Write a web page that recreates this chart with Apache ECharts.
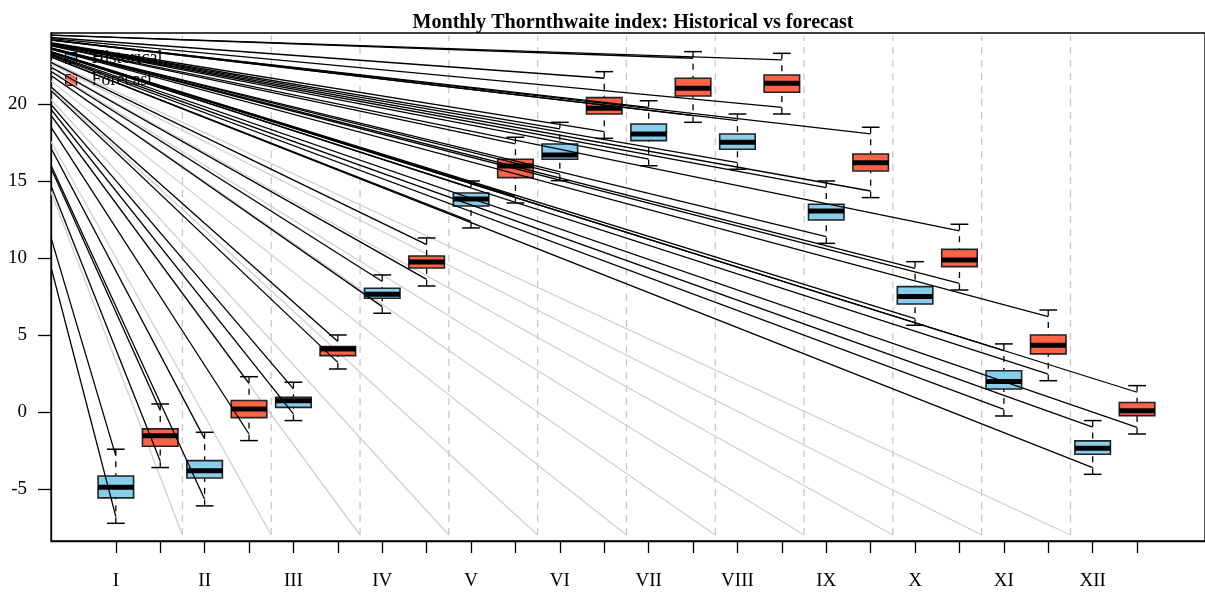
<!DOCTYPE html>
<html><head><meta charset="utf-8">
<script src="https://cdn.jsdelivr.net/npm/echarts@6/dist/echarts.min.js"></script>
<style>html,body{margin:0;padding:0;background:#fff}#c{width:1205px;height:594px}</style>
</head><body><div id="c"></div>
<script>
// ---- data ----
const months = ['I','II','III','IV','V','VI','VII','VIII','IX','X','XI','XII'];
// Historical box statistics
const histLo  = [-7.23,-6.10,-0.56, 6.41,11.95,15.02,15.99,15.76,10.95, 5.63,-0.26,-4.05];
const histQ1  = [-5.58,-4.29, 0.30, 7.38,13.38,16.41,17.62,17.06,12.47, 7.01, 1.49,-2.75];
const histMed = [-4.89,-3.81, 0.72, 7.64,13.83,16.69,18.05,17.51,13.05, 7.49, 1.97,-2.36];
const histQ3  = [-4.16,-3.16, 0.95, 8.03,14.22,17.40,18.70,18.05,13.49, 8.14, 2.68,-1.88];
const histHi  = [-2.42,-1.32, 1.93, 8.90,15.00,18.81,20.21,19.35,15.00, 9.76, 4.42,-0.56];
// Forecast box statistics
const fcstLo  = [-3.61,-1.86, 2.79, 8.18,13.57,17.77,18.81,19.35,13.92, 7.92, 2.03,-1.43];
const fcstQ1  = [-2.23,-0.37, 3.66, 9.35,15.22,19.35,20.52,20.76,15.65, 9.44, 3.77,-0.24];
const fcstMed = [-1.54, 0.19, 4.09, 9.74,15.97,19.72,21.02,21.34,16.19, 9.87, 4.33, 0.08];
const fcstQ3  = [-1.10, 0.74, 4.24,10.13,16.41,20.41,21.67,21.88,16.75,10.56, 5.00, 0.61];
const fcstHi  = [ 0.52, 2.29, 5.00,11.30,17.84,22.10,23.40,23.29,18.49,12.19, 6.62, 1.71];
// end values of the long black rays (near each whisker end)
const histRayHi = [-2.85,-1.75, 1.50, 8.47,14.57,18.38,19.78,18.92,14.57, 9.33, 3.99,-0.99];
const histRayLo = [-6.80,-5.67,-0.13, 6.84,12.38,15.45,16.42,16.19,11.38, 6.06, 0.17,-3.62];
const fcstRayHi = [ 0.09, 1.86, 4.57,10.87,17.41,21.67,22.97,22.86,18.06,11.76, 6.19, 1.28];
const fcstRayLo = [-3.18,-1.43, 3.22, 8.61,14.00,18.20,19.24,19.78,14.35, 8.35, 2.46,-1.00];
// common point the rays come from (outside the plot, upper left)
const rayOrigin = [-1.83, 24.61];
// month separators (dashed) and their extent
const sepBottom = -7.99, sepTop = 24.45;
const yTicks = [-5, 0, 5, 10, 15, 20];
const legendNames = ['Historical', 'Forecast'];
const colors = { Historical: '#87CEEB', Forecast: '#FF6347' };

// ---- build ----
const histPos = months.map((m, i) => 2 * i + 1);
const fcstPos = months.map((m, i) => 2 * i + 2);
const sepPos = months.slice(0, 11).map((m, i) => 2 * i + 2.5);
const histData = months.map((m, i) => [histPos[i], histLo[i], histQ1[i], histMed[i], histQ3[i], histHi[i]]);
const fcstData = months.map((m, i) => [fcstPos[i], fcstLo[i], fcstQ1[i], fcstMed[i], fcstQ3[i], fcstHi[i]]);
const rayEnds = [];
months.forEach((m, i) => {
  rayEnds.push([histPos[i], histRayHi[i]], [histPos[i], histRayLo[i]],
               [fcstPos[i], fcstRayHi[i]], [fcstPos[i], fcstRayLo[i]]);
});
const greyEnds = sepPos.map(x => [x, sepBottom]);

const BOX_W = 0.8, CAP_W = 0.4;
function renderBox(params, api) {
  const x = api.value(0);
  const pLo = api.coord([x, api.value(1)]);
  const pQ1 = api.coord([x, api.value(2)]);
  const pMd = api.coord([x, api.value(3)]);
  const pQ3 = api.coord([x, api.value(4)]);
  const pHi = api.coord([x, api.value(5)]);
  const half = api.size([BOX_W, 0])[0] / 2;
  const capHalf = api.size([CAP_W, 0])[0] / 2;
  const color = api.visual('color');
  const wStyle = { stroke: '#000', lineWidth: 1.3, lineDash: [6, 6] };
  const cStyle = { stroke: '#000', lineWidth: 1.5 };
  return { type: 'group', children: [
    { type: 'line', shape: { x1: pHi[0], y1: pHi[1], x2: pQ3[0], y2: pQ3[1] }, style: wStyle },
    { type: 'line', shape: { x1: pLo[0], y1: pLo[1], x2: pQ1[0], y2: pQ1[1] }, style: wStyle },
    { type: 'line', shape: { x1: pHi[0] - capHalf, y1: pHi[1], x2: pHi[0] + capHalf, y2: pHi[1] }, style: cStyle },
    { type: 'line', shape: { x1: pLo[0] - capHalf, y1: pLo[1], x2: pLo[0] + capHalf, y2: pLo[1] }, style: cStyle },
    { type: 'rect', shape: { x: pQ3[0] - half, y: pQ3[1], width: 2 * half, height: pQ1[1] - pQ3[1] },
      style: { fill: color, stroke: '#222', lineWidth: 1.6 } },
    { type: 'line', shape: { x1: pMd[0] - half, y1: pMd[1], x2: pMd[0] + half, y2: pMd[1] },
      style: { stroke: '#000', lineWidth: 5 } }
  ]};
}
function rayRenderer(color, width) {
  return function (params, api) {
    const p0 = api.coord(rayOrigin);
    const p1 = api.coord([api.value(0), api.value(1)]);
    return { type: 'line', shape: { x1: p0[0], y1: p0[1], x2: p1[0], y2: p1[1] },
             style: { stroke: color, lineWidth: width } };
  };
}
function renderSep(params, api) {
  const a = api.coord([api.value(0), sepBottom]);
  const b = api.coord([api.value(0), sepTop]);
  return { type: 'line', shape: { x1: a[0], y1: a[1], x2: b[0], y2: b[1] },
           style: { stroke: '#c8c8c8', lineWidth: 1.3, lineDash: [7, 6] } };
}

const serif = 'Liberation Serif';
const chart = echarts.init(document.getElementById('c'), null, { renderer: 'canvas' });
chart.setOption({
  animation: false,
  backgroundColor: '#fff',
  title: { text: 'Monthly Thornthwaite index: Historical vs forecast', left: 628, top: 8, textAlign: 'center',
           textStyle: { fontFamily: serif, fontWeight: 'bold', fontSize: 20.1, color: '#000' } },
  legend: { orient: 'vertical', left: 60, top: 44, z: 1, itemWidth: 11, itemHeight: 11, itemGap: 4,
            textStyle: { fontFamily: serif, fontSize: 18, color: '#000', padding: [0, 0, 0, 10] },
            data: legendNames.map(n => ({ name: n, icon: 'rect',
              itemStyle: { color: colors[n], borderColor: '#000', borderWidth: 1.2 } })) },
  grid: { left: 51, top: 33, right: -3, bottom: 53, show: true, borderColor: '#000', borderWidth: 1.3,
          containLabel: false },
  xAxis: { type: 'value', min: -0.46, max: 25.53,
           axisLine: { show: true, onZero: false, lineStyle: { color: '#000', width: 1.3 } },
           splitLine: { show: false },
           axisTick: { show: true, length: 12, lineStyle: { color: '#000', width: 1.3 },
                       customValues: histPos.concat(fcstPos) },
           axisLabel: { customValues: histPos, margin: 31, fontFamily: serif, fontSize: 19, color: '#000',
                        formatter: v => months[(v - 1) / 2] } },
  yAxis: { type: 'value', min: -8.38, max: 24.61,
           axisLine: { show: true, onZero: false, lineStyle: { color: '#000', width: 1.3 } },
           splitLine: { show: false },
           axisTick: { show: true, length: 13, lineStyle: { color: '#000', width: 1.3 }, customValues: yTicks },
           axisLabel: { customValues: yTicks, margin: 24, fontFamily: serif, fontSize: 19, color: '#000',
                        formatter: v => String(v) } },
  series: [
    { type: 'custom', name: 'separators', z: 2, clip: true, renderItem: renderSep, data: sepPos.map(x => [x]) },
    { type: 'custom', name: 'greyRays', z: 2, clip: true, renderItem: rayRenderer('#d0d0d0', 1.3), data: greyEnds },
    { type: 'custom', name: 'Historical', z: 3, renderItem: renderBox, itemStyle: { color: colors.Historical }, data: histData },
    { type: 'custom', name: 'Forecast', z: 3, renderItem: renderBox, itemStyle: { color: colors.Forecast }, data: fcstData },
    { type: 'custom', name: 'blackRays', z: 5, clip: true, renderItem: rayRenderer('#000', 1.3), data: rayEnds }
  ]
});
</script></body></html>
